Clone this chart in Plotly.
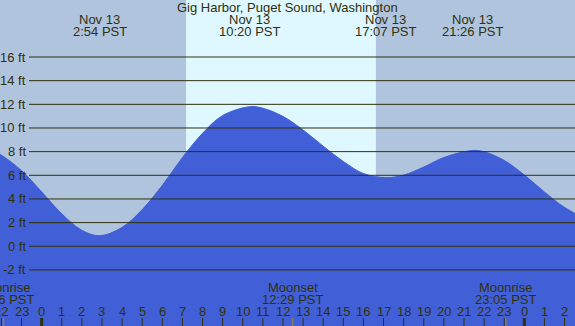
import plotly.graph_objects as go

# ---- data ----
TIDE_HOURS = [-3, -2, -1, 0, 1, 2, 2.9, 4, 5, 6, 7, 8, 9, 10.33, 11, 12, 13, 14, 15, 16,
              17.12, 18, 19, 20, 21.43, 22, 23, 24, 25, 26, 27, 27.8]
TIDE_FT = [8.6, 7.7, 6.4, 4.6, 2.75, 1.35, 0.9, 1.6, 3.1, 5.15, 7.5, 9.55, 11.05, 11.8, 11.67,
           10.98, 9.83, 8.46, 7.17, 6.15, 5.8, 6.02, 6.7, 7.51, 8.1, 7.99, 7.26, 6.03, 4.59,
           3.29, 2.43, 2.2]

EXTREME_HOURS = [2.9, 10.33, 17.12, 21.43, 27.8]
EXTREME_DATES = ["Nov 13", "Nov 13", "Nov 13", "Nov 13", "Nov 14"]
EXTREME_TIMES = ["2:54 PST", "10:20 PST", "17:07 PST", "21:26 PST", "3:48 PST"]

SUNRISE_H = 7.18
SUNSET_H = 16.62

MOON_HOURS = [-1.9, 12.48, 23.08]
MOON_EVENTS = ["Moonrise", "Moonset", "Moonrise"]
MOON_TIMES = ["22:06 PST", "12:29 PST", "23:05 PST"]

HOUR_TICKS = list(range(-2, 27))
HOUR_LABELS = [str(h % 24) for h in HOUR_TICKS]

FT_TICKS = [-2, 0, 2, 4, 6, 8, 10, 12, 14, 16]
FT_LABELS = [f"{v} ft" for v in FT_TICKS]

TITLE = "Gig Harbor, Puget Sound, Washington"

# ---- styling ----
W, H = 575, 326
X_RANGE = [-2.07, 26.52]
Y_RANGE = [-6.74, 20.82]
NIGHT = "#B0C4DE"
DAY = "#DFF7FF"
WATER = "#4160D7"
INK = "#30300c"
FONT = "Liberation Sans, Arial, sans-serif"


def py(px):
    """pixel from top -> paper fraction"""
    return 1 - px / H


fig = go.Figure()

fig.add_trace(go.Scatter(x=TIDE_HOURS, y=[Y_RANGE[0]] * len(TIDE_HOURS), mode="lines",
                         line=dict(width=0, color=WATER), hoverinfo="skip", showlegend=False))
fig.add_trace(go.Scatter(x=TIDE_HOURS, y=TIDE_FT, mode="lines", line_shape="spline",
                         line=dict(width=1, color=WATER), fill="tonexty", fillcolor=WATER,
                         showlegend=False))

shapes = []
# daylight band
shapes.append(dict(type="rect", xref="x", yref="paper", x0=SUNRISE_H, x1=SUNSET_H, y0=0, y1=1,
                   fillcolor=DAY, line=dict(width=0), layer="below"))
# horizontal grid lines over the water
for v in FT_TICKS:
    shapes.append(dict(type="line", xref="paper", yref="y", x0=29 / W, x1=1, y0=v, y1=v,
                       line=dict(color=INK, width=1), layer="above"))
# hour ticks
for h in HOUR_TICKS:
    wide = (h % 24 == 0)
    shapes.append(dict(type="line", xref="x", yref="paper", x0=h, x1=h, y0=0, y1=8 / H,
                       line=dict(color=INK, width=3 if wide else 1), layer="above"))
# moon ticks
for mh in MOON_HOURS:
    shapes.append(dict(type="line", xref="x", yref="paper", x0=mh, x1=mh, y0=0, y1=8 / H,
                       line=dict(color="#8a7d60", width=1.5), layer="above"))

ann = []
f = dict(family=FONT, size=13, color=INK)
ann.append(dict(text=TITLE, xref="paper", yref="paper", x=0.5, y=py(7.8), showarrow=False,
                font=f, xanchor="center", yanchor="middle"))
for t, d, tm in zip(EXTREME_HOURS, EXTREME_DATES, EXTREME_TIMES):
    ann.append(dict(text=d, xref="x", yref="paper", x=t, y=py(19.8), showarrow=False, font=f,
                    xanchor="center", yanchor="middle"))
    ann.append(dict(text=tm, xref="x", yref="paper", x=t, y=py(31.5), showarrow=False, font=f,
                    xanchor="center", yanchor="middle"))
for v, lab in zip(FT_TICKS, FT_LABELS):
    ann.append(dict(text=lab, xref="paper", yref="y", x=27.5 / W, y=v, showarrow=False, font=f,
                    xanchor="right", yanchor="middle"))
for h, lab in zip(HOUR_TICKS, HOUR_LABELS):
    ann.append(dict(text=lab, xref="x", yref="paper", x=h, y=py(311.5), showarrow=False, font=f,
                    xanchor="center", yanchor="middle"))
for mh, ev, tm in zip(MOON_HOURS, MOON_EVENTS, MOON_TIMES):
    ann.append(dict(text=ev, xref="x", yref="paper", x=mh, y=py(287.5), showarrow=False, font=f,
                    xanchor="center", yanchor="middle"))
    ann.append(dict(text=tm, xref="x", yref="paper", x=mh, y=py(299.5), showarrow=False, font=f,
                    xanchor="center", yanchor="middle"))

fig.update_layout(
    width=W, height=H, margin=dict(l=0, r=0, t=0, b=0, pad=0),
    paper_bgcolor=NIGHT, plot_bgcolor=NIGHT,
    xaxis=dict(range=X_RANGE, visible=False, fixedrange=True),
    yaxis=dict(range=Y_RANGE, visible=False, fixedrange=True),
    shapes=shapes, annotations=ann, showlegend=False, font=f,
)

fig.write_html(
    "out.html",
    config={"displayModeBar": False},
    post_script="document.body.style.margin='0';document.body.style.padding='0';"
                "document.body.style.overflow='hidden';",
)
